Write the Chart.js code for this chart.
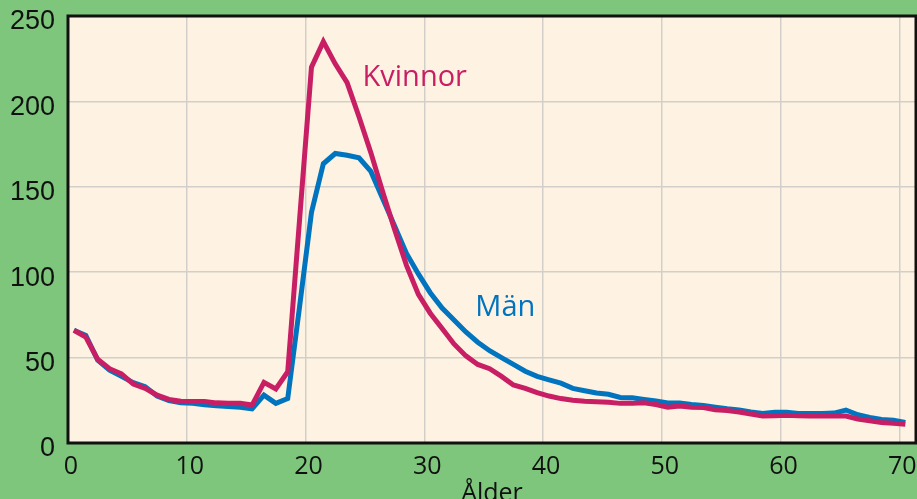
<!DOCTYPE html>
<html>
<head>
<meta charset="utf-8">
<script src="https://cdn.jsdelivr.net/npm/chart.js@4/dist/chart.umd.min.js"></script>
<style>
  html, body { margin: 0; padding: 0; background: #7dc67c; }
  #wrap { width: 917px; height: 499px; }
</style>
</head>
<body>
<div id="wrap"><canvas id="myChart" width="917" height="499"></canvas></div>
<script>
// ålder (mitt i varje ettårsintervall)
const alder = [
  0.5, 1.5, 2.5, 3.5, 4.5, 5.5, 6.5, 7.5, 8.5, 9.5,
  10.5, 11.5, 12.5, 13.5, 14.5, 15.5, 16.5, 17.5, 18.5, 19.5,
  20.5, 21.5, 22.5, 23.5, 24.5, 25.5, 26.5, 27.5, 28.5, 29.5,
  30.5, 31.5, 32.5, 33.5, 34.5, 35.5, 36.5, 37.5, 38.5, 39.5,
  40.5, 41.5, 42.5, 43.5, 44.5, 45.5, 46.5, 47.5, 48.5, 49.5,
  50.5, 51.5, 52.5, 53.5, 54.5, 55.5, 56.5, 57.5, 58.5, 59.5,
  60.5, 61.5, 62.5, 63.5, 64.5, 65.5, 66.5, 67.5, 68.5, 69.5,
  70.5
];
const kvinnor = [
  66, 62, 49, 43.5, 40.5, 34.5, 32, 28, 25.5, 24.5,
  24.3, 24.3, 23.5, 23.3, 23.3, 22.2, 35.5, 31.6, 41.7, 131,
  220, 235, 222, 211, 191, 170, 147, 125, 104, 87,
  76, 67, 58, 51, 46, 43.5, 39, 34, 32, 29.5,
  27.5, 26, 25, 24.5, 24.2, 23.8, 23.2, 23.2, 23.5, 22.5,
  21, 21.6, 21, 20.8, 19.5, 19, 18.2, 17, 15.8, 16,
  16.3, 16, 15.8, 15.8, 15.8, 15.8, 14, 13, 12, 11.5,
  11
];
const man = [
  66, 63, 48.5, 42.7, 39, 35.3, 33, 27.5, 24.8, 23.6,
  23.2, 22.4, 21.8, 21.4, 20.9, 20, 28, 23.2, 26, 80,
  135, 163.5, 169.5, 168.5, 167, 159, 143, 127, 111, 99,
  88, 79, 72, 65, 59, 54, 50, 46, 42, 39,
  37, 35, 32, 30.6, 29.3, 28.5, 26.7, 26.5, 25.5, 24.6,
  23.4, 23.4, 22.6, 22, 21, 20, 19.3, 18.2, 17.3, 18,
  18, 17.3, 17.3, 17.3, 17.5, 19.3, 16.5, 15, 13.8, 13.3,
  12
];
const xTicks = [0, 10, 20, 30, 40, 50, 60, 70];
const yTicks = [0, 50, 100, 150, 200, 250];

const rosa = '#c81e64';
const bla = '#0074be';

const ctx = document.querySelector("#myChart");

// bakgrund, ram, serienamn och axeltitel
const dekor = {
  id: 'dekor',
  beforeDraw(chart) {
    const c = chart.ctx, a = chart.chartArea;
    c.save();
    c.fillStyle = '#7dc67c';
    c.fillRect(0, 0, chart.width, chart.height);
    c.fillStyle = '#fef2e2';
    c.fillRect(a.left, a.top, a.right - a.left, a.bottom - a.top);
    c.restore();
  },
  afterDraw(chart) {
    const c = chart.ctx, a = chart.chartArea;
    const x = chart.scales.x, y = chart.scales.y;
    c.save();
    c.strokeStyle = '#111';
    c.lineWidth = 3;
    c.strokeRect(a.left, a.top, a.right - a.left, a.bottom - a.top);
    c.font = '29px "Open Sans"';
    c.textBaseline = 'middle';
    c.textAlign = 'left';
    c.fillStyle = rosa;
    c.fillText('Kvinnor', x.getPixelForValue(24.8), y.getPixelForValue(214));
    c.fillStyle = bla;
    c.fillText('Män', x.getPixelForValue(34.3), y.getPixelForValue(79));
    c.fillStyle = '#111';
    c.textAlign = 'center';
    c.font = '25px "Open Sans"';
    c.fillText('Ålder', (a.left + a.right) / 2, 494);
    c.restore();
  }
};

new Chart(ctx, {
  type: 'line',
  data: {
    labels: alder,
    datasets: [
      {
        label: 'Kvinnor',
        data: alder.map((a, i) => ({ x: a, y: kvinnor[i] })),
        borderColor: rosa,
        borderWidth: 5,
        pointRadius: 0,
        tension: 0
      },
      {
        label: 'Män',
        data: alder.map((a, i) => ({ x: a, y: man[i] })),
        borderColor: bla,
        borderWidth: 5,
        pointRadius: 0,
        tension: 0
      }
    ]
  },
  options: {
    responsive: false,
    animation: false,
    layout: { padding: { left: 0, right: 1, top: 16, bottom: 0 } },
    plugins: { legend: { display: false }, tooltip: { enabled: false } },
    scales: {
      x: {
        type: 'linear',
        min: 0,
        max: 71.4,
        afterBuildTicks: (s) => { s.ticks = xTicks.map(v => ({ value: v })); },
        afterFit: (s) => { s.height = 56; s.paddingLeft = 0; s.paddingRight = 0; },
        grid: { color: '#d2cfca', lineWidth: 1.5, drawTicks: false },
        border: { display: false },
        ticks: {
          color: '#111',
          font: { family: 'Open Sans', size: 25 },
          padding: 9,
          labelOffset: 3,
          maxRotation: 0,
          autoSkip: false
        }
      },
      y: {
        min: 0,
        max: 250,
        afterBuildTicks: (s) => { s.ticks = yTicks.map(v => ({ value: v })); },
        afterFit: (s) => { s.width = 68; s.paddingTop = 0; s.paddingBottom = 0; },
        grid: { color: '#d2cfca', lineWidth: 1.5, drawTicks: false },
        border: { display: false },
        ticks: {
          color: '#111',
          font: { family: 'Liberation Sans', size: 27 },
          padding: 13,
          labelOffset: 6
        }
      }
    }
  },
  plugins: [dekor]
});
</script>
</body>
</html>
